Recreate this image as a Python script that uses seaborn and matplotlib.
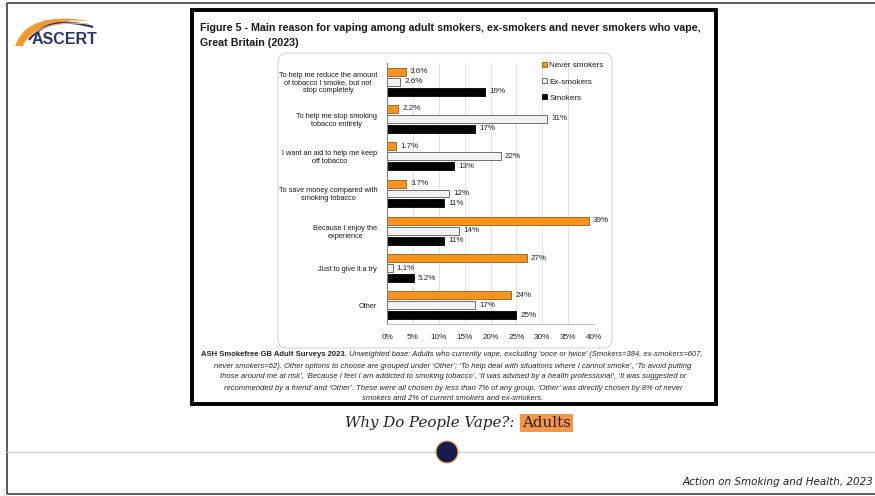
import matplotlib
matplotlib.use("Agg")
import matplotlib.pyplot as plt
import seaborn as sns
import pandas as pd
import numpy as np
from matplotlib.patches import Rectangle, FancyBboxPatch, Circle, Patch, PathPatch
from matplotlib.path import Path

# ---- data -------------------------------------------------------------
reasons = [
    "To help me reduce the amount\nof tobacco I smoke, but not\nstop completely",
    "To help me stop smoking\ntobacco entirely",
    "I want an aid to help me keep\noff tobacco",
    "To save money compared with\nsmoking tobacco",
    "Because I enjoy the\nexperience",
    "Just to give it a try",
    "Other",
]
groups = ["Never smokers", "Ex-smokers", "Smokers"]
never_smokers = [3.6, 2.2, 1.7, 3.7, 39, 27, 24]
ex_smokers = [2.6, 31, 22, 12, 14, 1.1, 17]
smokers = [19, 17, 13, 11, 11, 5.2, 25]
x_ticks = [0, 5, 10, 15, 20, 25, 30, 35, 40]
x_tick_labels = [f"{t}%" for t in x_ticks]

series = [never_smokers, ex_smokers, smokers]
df = pd.DataFrame({
    "reason": reasons * len(groups),
    "group": np.repeat(groups, len(reasons)),
    "pct": never_smokers + ex_smokers + smokers,
})

fills = ["#F7941E", "#F2F2F2", "#000000"]
edges = ["#9A5A14", "#5A5A5A", "#000000"]

title_lines = [
    "Figure 5 - Main reason for vaping among adult smokers, ex-smokers and never smokers who vape,",
    "Great Britain (2023)",
]
note_bold = "ASH Smokefree GB Adult Surveys 2023."
note_lines = [
    " Unweighted base: Adults who currently vape, excluding \u2018once or twice\u2019 (Smokers=384, ex-smokers=607,",
    "never smokers=62). Other options to choose are grouped under \u2018Other\u2019; \u2018To help deal with situations where I cannot smoke\u2019, \u2018To avoid putting",
    "those around me at risk\u2019, \u2018Because I feel I am addicted to smoking tobacco\u2019, \u2018It was advised by a health professional\u2019, \u2018It was suggested or",
    "recommended by a friend\u2019 and \u2018Other\u2019. These were all chosen by less than 7% of any group. \u2018Other\u2019 was directly chosen by 8% of never",
    "smokers and 2% of current smokers and ex-smokers.",
]

# ---- figure -------------------------------------------------------------
sns.set_theme(style="white")
plt.rcParams["font.family"] = ["Liberation Sans", "DejaVu Sans"]

W, H = 875, 496
fig = plt.figure(figsize=(W / 100, H / 100), dpi=100)
fig.patch.set_facecolor("white")

# slide canvas in pixel units (y downwards)
bg = fig.add_axes([0, 0, 1, 1])
bg.set_xlim(0, W)
bg.set_ylim(H, 0)
bg.axis("off")

# slide frame and separator
bg.plot([7, W], [2.5, 2.5], color="#4d4d4d", lw=1.3, solid_capstyle="butt")
bg.plot([7, 7], [2.5, 494], color="#4d4d4d", lw=1.3, solid_capstyle="butt")
bg.plot([7, W], [494, 494], color="#4d4d4d", lw=1.3, solid_capstyle="butt")
bg.plot([7, W], [452, 452], color="#cfcfcf", lw=0.9)
bg.add_patch(Circle((447, 452), 11, fc="#141B4D", ec="#F0A050", lw=0.9, zorder=3))

# logo
outer = [(15, 46), (28, 10), (90, 21)]
inner = [(90, 21), (36, 17), (23, 46)]
verts = outer + inner[1:] + [(15, 46)]
codes = [Path.MOVETO, Path.CURVE3, Path.CURVE3, Path.CURVE3, Path.CURVE3, Path.CLOSEPOLY]
bg.add_patch(PathPatch(Path(verts, codes), fc="#F39A2E", ec="none"))
arc2 = Path([(29, 40), (48, 14), (93, 27)], [Path.MOVETO, Path.CURVE3, Path.CURVE3])
bg.add_patch(PathPatch(arc2, fc="none", ec="#2B3270", lw=1.6))
arc3 = Path([(24, 43), (40, 19), (88, 24)], [Path.MOVETO, Path.CURVE3, Path.CURVE3])
bg.add_patch(PathPatch(arc3, fc="none", ec="#F6B860", lw=0.8))
bg.text(32, 39.5, "ASCERT", fontsize=11.5, fontweight="bold", color="#2B3270",
        ha="left", va="center")

# embedded figure frame and rounded chart panel
bg.add_patch(Rectangle((191.5, 9.5), 524, 394, fill=False, ec="black", lw=2.8))
bg.add_patch(FancyBboxPatch((278, 53), 334, 295,
                            boxstyle="round,pad=0,rounding_size=9",
                            fc="white", ec="#d6d6d6", lw=0.8))

# figure title
for y, line in zip([28, 43], title_lines):
    bg.text(200, y, line, fontsize=7.7, fontweight="bold", color="#1a1a1a",
            ha="left", va="center")

# source note
t0 = bg.text(201, 355, note_bold, fontsize=5.5, fontweight="bold",
             color="#262626", ha="left", va="center")
bg.annotate(note_lines[0], xy=(1, 0.5), xycoords=t0, fontsize=5.5,
            style="italic", color="#262626", ha="left", va="center")
for y, line in zip([366, 377, 388, 398.5], note_lines[1:]):
    bg.text(453, y, line, fontsize=5.5, style="italic", color="#262626",
            ha="center", va="center")

# slide caption
bg.text(519, 423, "Why Do People Vape?: ", fontsize=10.8, style="italic",
        family="DejaVu Serif", color="#222222", ha="right", va="center")
bg.text(522, 423, "Adults", fontsize=10.8, family="DejaVu Serif",
        color="#222222", ha="left", va="center",
        bbox=dict(boxstyle="square,pad=0.12", fc="#F79646", ec="none"))
bg.text(873, 482, "Action on Smoking and Health, 2023", fontsize=7.5,
        style="italic", family="DejaVu Sans", color="#222222",
        ha="right", va="center")

# ---- bar chart ------------------------------------------------------
ax = fig.add_axes([387 / W, 1 - 324 / H, 207 / W, 261 / H])
ax.set_facecolor("none")
sns.barplot(data=df, y="reason", x="pct", hue="group", hue_order=groups,
            order=reasons, orient="h", palette=fills, saturation=1,
            width=0.8, gap=0.2, linewidth=0.6, legend=False, ax=ax)

for cont, ec, vals in zip(ax.containers, edges, series):
    for bar in cont:
        bar.set_edgecolor(ec)
    ax.bar_label(cont, labels=[f"{v:g}%" for v in vals], padding=3,
                 fontsize=5.8, color="#262626")

ax.set_xlim(0, 40)
ax.set_xticks(x_ticks)
ax.set_xticklabels(x_tick_labels)
ax.set_xlabel("")
ax.set_ylabel("")
ax.xaxis.grid(True, color="#dcdcdc", lw=0.6)
ax.yaxis.grid(False)
ax.set_axisbelow(True)
ax.tick_params(axis="y", length=0, pad=7, labelsize=5.3, labelcolor="#1a1a1a")
ax.tick_params(axis="x", length=0, pad=7, labelsize=5.9, labelcolor="#262626")
for lab in ax.get_yticklabels():
    lab.set_multialignment("center")
    lab.set_linespacing(1.15)
for side in ["top", "right"]:
    ax.spines[side].set_visible(False)
ax.spines["left"].set_color("#808080")
ax.spines["left"].set_linewidth(0.8)
ax.spines["bottom"].set_color("#bfbfbf")
ax.spines["bottom"].set_linewidth(0.8)

handles = [Patch(fc=f, ec=e, lw=0.6, label=g) for f, e, g in zip(fills, edges, groups)]
ax.legend(handles=handles, loc="upper left", bbox_to_anchor=(542 / W, 1 - 62 / H),
          bbox_transform=fig.transFigure, frameon=False, fontsize=5.9,
          handlelength=0.6, handleheight=0.6, handletextpad=0.3,
          labelspacing=1.05, borderpad=0, borderaxespad=0, labelcolor="#1a1a1a")

fig.savefig("out.png", dpi=100)
